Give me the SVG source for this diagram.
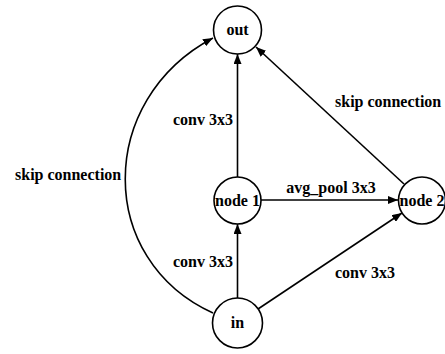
<svg xmlns="http://www.w3.org/2000/svg" width="445" height="354" viewBox="0 0 445 354">
  <defs>
    <marker id="arrow" viewBox="0 0 10 8" refX="10" refY="4" markerWidth="10" markerHeight="8" markerUnits="userSpaceOnUse" orient="auto">
      <path d="M0,0 L10,4 L0,8 Z" fill="#000"/>
    </marker>
    <style>
      .node circle { fill: #fff; stroke: #000; stroke-width: 1.6; }
      .node text, .label { font-family: "Liberation Serif", "Times New Roman", serif; font-weight: bold; font-size: 16px; fill: #000; }
      .node text { text-anchor: middle; }
      .edge { fill: none; stroke: #000; stroke-width: 1.6; marker-end: url(#arrow); }
    </style>
  </defs>
  <rect width="445" height="354" fill="#fff"/>

  <!-- connectors -->
  <g id="edges">
    <line class="edge" x1="237.5" y1="298" x2="237.5" y2="224"/>
    <line class="edge" x1="237.5" y1="177" x2="237.5" y2="54"/>
    <line class="edge" x1="261" y1="200" x2="398" y2="200"/>
    <line class="edge" x1="258" y1="309" x2="402" y2="213"/>
    <line class="edge" x1="404" y1="184" x2="256" y2="47"/>
    <path class="edge" d="M213,313 C96,260 96,100 213,38"/>
  </g>

  <!-- edge labels -->
  <g id="labels">
    <text class="label" x="233" y="125" text-anchor="end">conv 3x3</text>
    <text class="label" x="233" y="267" text-anchor="end">conv 3x3</text>
    <text class="label" x="331" y="193" text-anchor="middle">avg_pool 3x3</text>
    <text class="label" x="335" y="107">skip connection</text>
    <text class="label" x="335" y="278">conv 3x3</text>
    <text class="label" x="15" y="180">skip connection</text>
  </g>

  <!-- nodes -->
  <g id="node-out" class="node">
    <circle cx="237.5" cy="30" r="24"/>
    <text x="237.5" y="35">out</text>
  </g>
  <g id="node-1" class="node">
    <circle cx="237.5" cy="200.5" r="23.5"/>
    <text x="237.5" y="205.5">node 1</text>
  </g>
  <g id="node-2" class="node">
    <circle cx="422" cy="200.5" r="23.5"/>
    <text x="422" y="205.5">node 2</text>
  </g>
  <g id="node-in" class="node">
    <circle cx="237.5" cy="323" r="25"/>
    <text x="237.5" y="328">in</text>
  </g>
</svg>
